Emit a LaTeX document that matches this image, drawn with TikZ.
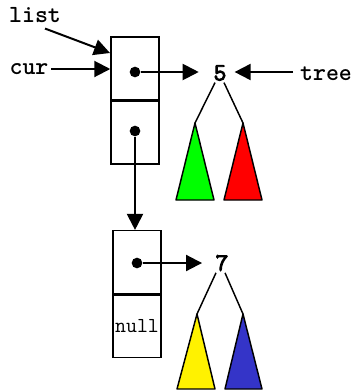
\documentclass[tikz,border=0pt]{standalone}
\usepackage{fontspec}
\newfontfamily\digitfont{Latin Modern Mono}[FakeBold=4]
\usetikzlibrary{arrows.meta}
\definecolor{treeblue}{RGB}{52,52,200}
\tikzset{
  txt/.style={font=\ttfamily\bfseries\fontsize{18.5}{18.5}\selectfont, inner sep=2pt},
  valtxt/.style={font=\digitfont\fontsize{18.5}{18.5}\selectfont, inner sep=2pt},
  nulltxt/.style={font=\ttfamily\fontsize{16}{16}\selectfont, inner sep=0pt},
  cell/.style={draw, line width=1.1pt, minimum width=36pt, minimum height=47pt, inner sep=0pt},
  dot/.style={circle, fill, inner sep=0pt, minimum size=8pt},
  ptr/.style={->, line width=1.5pt},
  branch/.style={line width=1.1pt},
  subtree/.style={draw, line width=1.1pt, line join=round}
}
\begin{document}
\begin{tikzpicture}[x=0.75pt,y=-0.75pt,>={Triangle[length=12pt,width=12pt]}]
\useasboundingbox (0,0) rectangle (355,390);
% list cells
\node[cell] (top1) at (135,68.5) {};
\node[cell,anchor=north] (bot1) at (top1.south) {};
\node[cell] (top2) at (137,262) {};
\node[cell,anchor=north] (bot2) at (top2.south) {};
\node[nulltxt] (null) at (bot2.center) {null};
\node[dot] (d1) at (135,72) {};
\node[dot] (d2) at (135,131) {};
\node[dot] (d3) at (137,263) {};
% names and values
\node[txt] (list) at (35,15) {list};
\node[txt] (cur) at (29,69) {cur};
\node[txt] (tree) at (326,74) {tree};
\node[valtxt] (five) at (220,73) {5};
\node[valtxt] (seven) at (222,263) {7};
\coordinate (listtip) at (110,53);
% pointers
\draw[ptr] ([shift={(10,3)}]list.south) -- (listtip);
\draw[ptr] (cur.east) -- (cur.east -| top1.west);
\draw[ptr,shorten >=9pt] (d1) -- (d1 -| five.west);
\draw[ptr,shorten >=4pt,shorten <=3pt] (tree.west |- d1) -- (five.east |- d1);
\draw[ptr] (d2) -- (d2 |- top2.north);
\draw[ptr,shorten >=8pt] (d3) -- (d3 -| seven.west);
% subtrees
\coordinate (g) at (195,123);
\coordinate (r) at (243,123);
\coordinate (y) at (197,314);
\coordinate (b) at (243,314);
\draw[branch] ([shift={(-5,-1)}]five.south) -- (g);
\draw[branch] ([shift={(4,-1)}]five.south) -- (r);
\draw[branch] ([shift={(-6,-1)}]seven.south) -- (y);
\draw[branch] ([shift={(3,-1)}]seven.south) -- (b);
\filldraw[subtree,fill=green] (g) -- (176,200) -- (214,200) -- cycle;
\filldraw[subtree,fill=red] (r) -- (224,200) -- (262,200) -- cycle;
\filldraw[subtree,fill=yellow] (y) -- (177,389) -- (215,389) -- cycle;
\filldraw[subtree,fill=treeblue] (b) -- (225,389) -- (262,389) -- cycle;
\end{tikzpicture}
\end{document}
